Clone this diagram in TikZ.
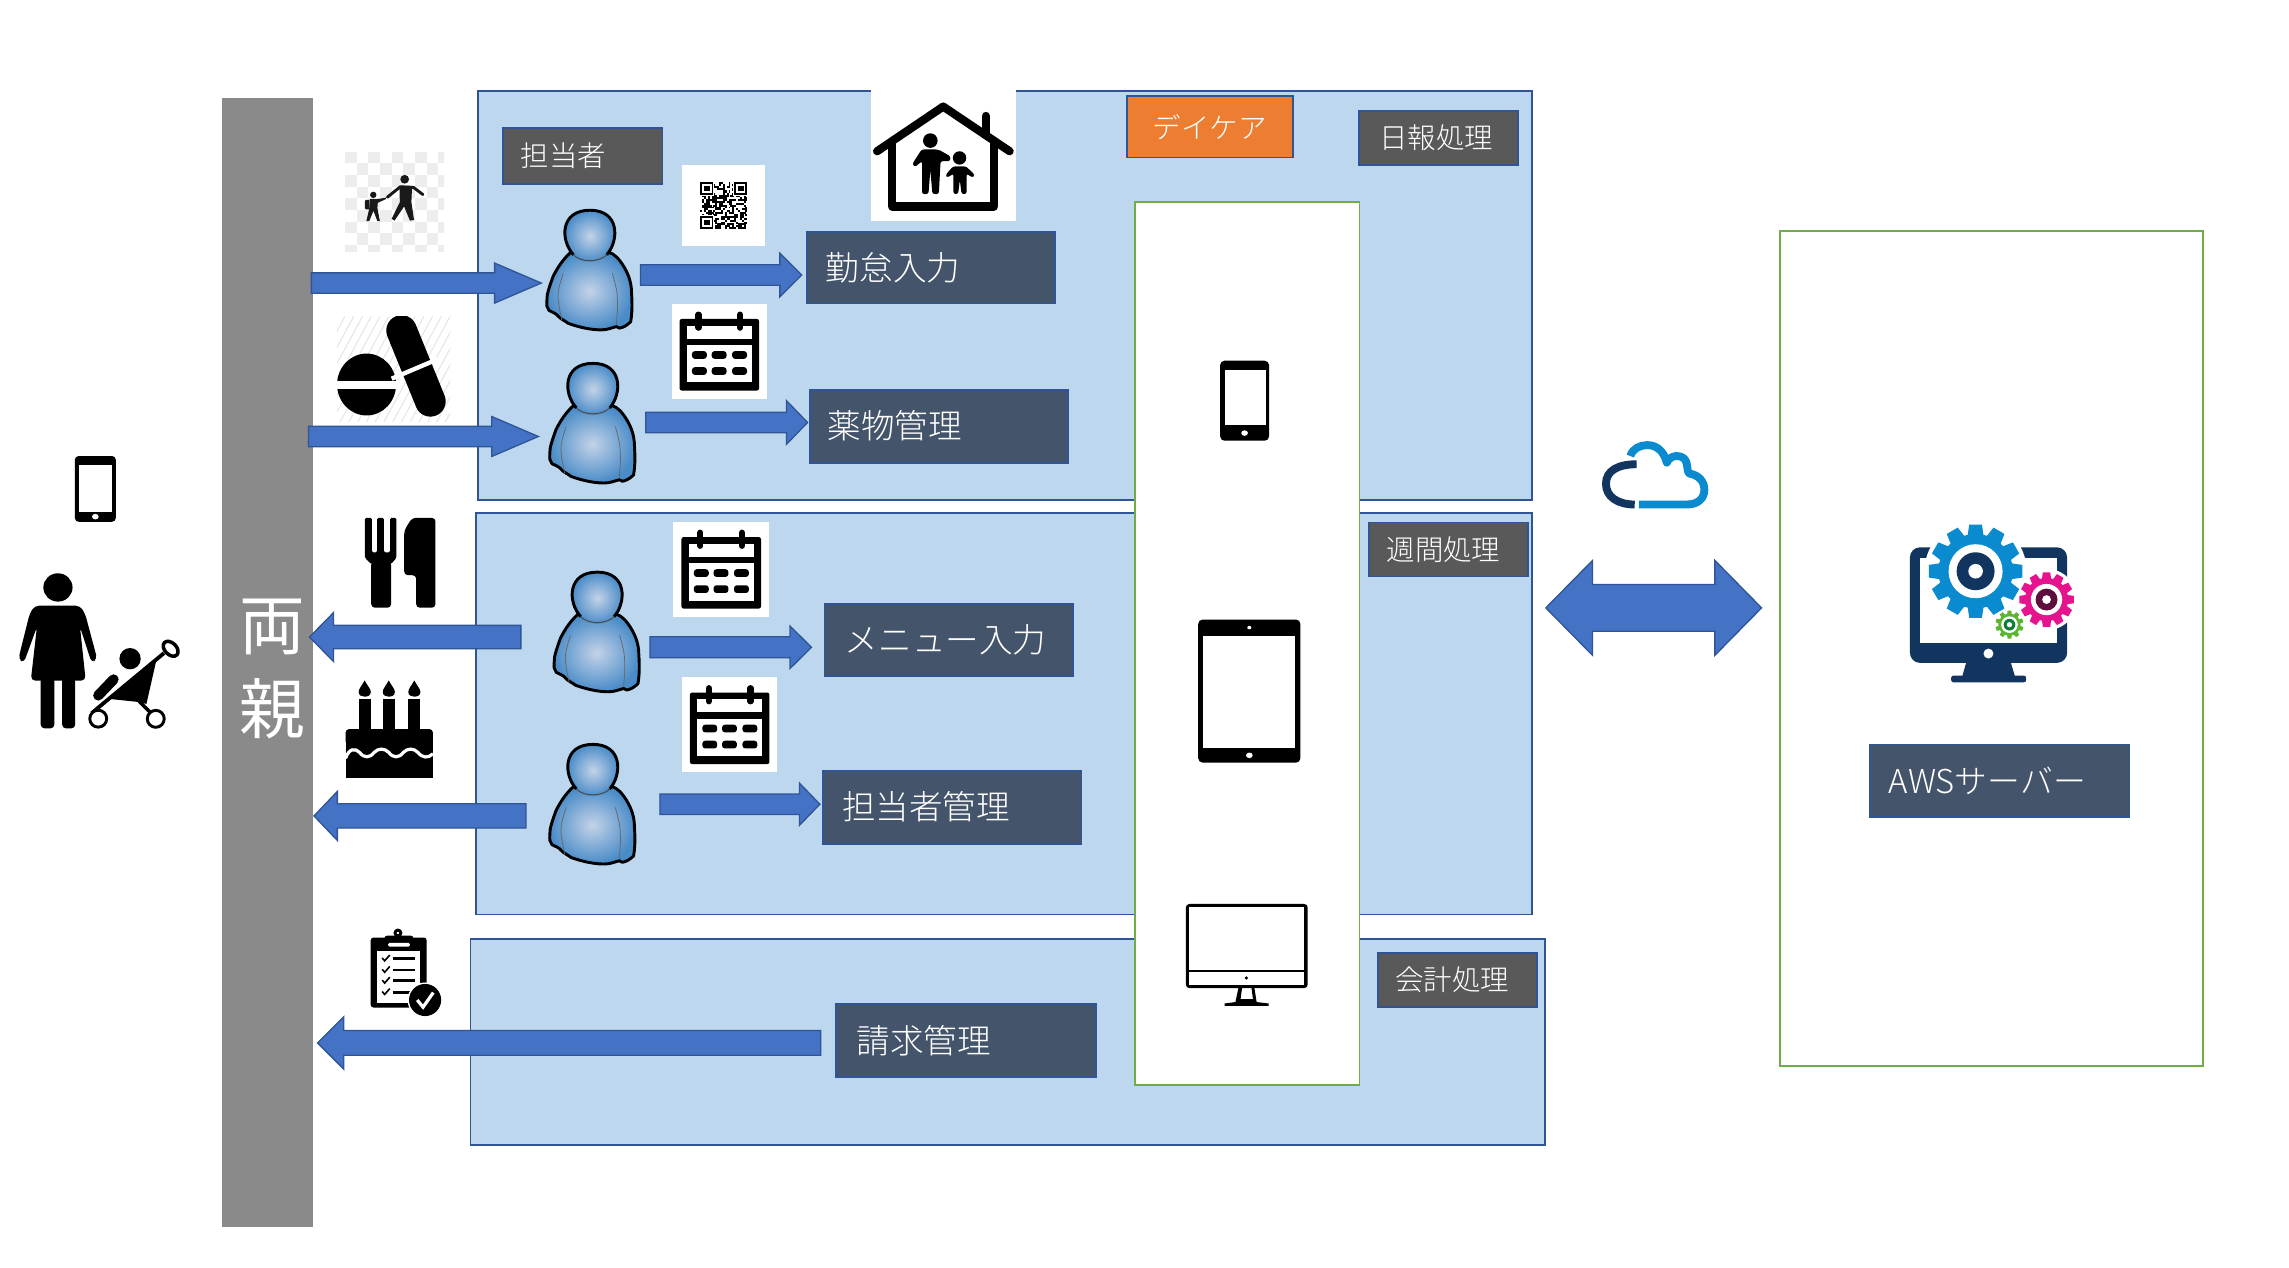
\documentclass[tikz,border=0pt]{standalone}
\usepackage{fontspec}
\setmainfont{Noto Sans CJK JP}[UprightFont={* Light}]
\newfontfamily\jpreg{Noto Sans CJK JP}
\usetikzlibrary{calc}
\definecolor{panelfill}{HTML}{BDD7EE}
\definecolor{edgeblue}{HTML}{2F5597}
\definecolor{arrowblue}{HTML}{4472C4}
\definecolor{slate}{HTML}{44546A}
\definecolor{darkgray}{HTML}{595959}
\definecolor{bargray}{HTML}{8A8A8A}
\definecolor{okgreen}{HTML}{70AD47}
\definecolor{orangebox}{HTML}{ED7D31}
\definecolor{navy}{HTML}{12355F}
\definecolor{gearblue}{HTML}{0A8BCF}
\definecolor{gearpink}{HTML}{E5148E}
\definecolor{gearplum}{HTML}{5E0F3E}
\definecolor{geargreen}{HTML}{5CB531}
\definecolor{geardark}{HTML}{0E7C3A}
\definecolor{skinlight}{HTML}{C4D3E8}
\definecolor{skinedge}{HTML}{4A8CC8}
\tikzset{
  panel/.style={draw=edgeblue,fill=panelfill,line width=1.2pt},
  greenbox/.style={draw=okgreen,fill=white,line width=1.2pt},
  graytag/.style={draw=edgeblue,fill=darkgray,line width=1.2pt,text=white},
  slatetag/.style={draw=edgeblue,fill=slate,line width=1.2pt,text=white},
  orangetag/.style={draw=edgeblue,fill=orangebox,line width=1.2pt,text=white},
  blockarrow/.style={draw=edgeblue,fill=arrowblue,line width=0.9pt},
}
% name, x1,y1,x2,y2, style, font size, left offset, text
\newcommand\lab[9]{%
  \pgfmathsetmacro\lbW{#4-#2-1}\pgfmathsetmacro\lbH{#5-#3-1}%
  \node[#6,anchor=center,minimum width=\lbW pt,minimum height=\lbH pt,text width={\lbW pt-2*#8 pt},
        inner xsep=#8pt,inner ysep=0pt,align=left,font=\fontsize{#7}{#7}\selectfont]
        (#1) at ({(#2+#4)/2},{(#3+#5)/2}) {\raisebox{1pt}{#9}};}
% start, end, half shaft, half head, head length (horizontal)
\newcommand\barrow[5]{%
  \draw[blockarrow] let \p1=(#1),\p2=(#2),\n1={ifthenelse(\x2>\x1,1,-1)*#5*1pt} in
   (\x1,\y1+#3pt) -- (\x2-\n1,\y1+#3pt) -- (\x2-\n1,\y1+#4pt) -- (\x2,\y1) --
   (\x2-\n1,\y1-#4pt) -- (\x2-\n1,\y1-#3pt) -- (\x1,\y1-#3pt) -- cycle;}
% person: origin at top centre of head
\newcommand\person[1]{%
  \begin{scope}[shift={(#1)},xshift=-.3pt,y=-.97pt,x=.97pt]
   \shadedraw[inner color=skinlight,outer color=skinedge,draw=black,line width=2pt,line join=round]
     (-12.9,29.7) .. controls (-20,36) and (-24,44) .. (-25.4,46.8) .. controls (-28,54) and (-30,60) .. (-29.7,62.8)
     .. controls (-30,67) and (-30,69) .. (-28.3,70.8) .. controls (-26,72) and (-23,73) .. (-21.9,74.7)
     .. controls (-20,77) and (-17,78) .. (-14.7,79.9) .. controls (-6,83) and (2,84.5) .. (8.6,84.5)
     .. controls (13,84.5) and (16,83) .. (19.3,82.2) .. controls (21,83.5) and (22,83.5) .. (23,82.9)
     .. controls (26,82) and (28,80) .. (29.4,78.8) .. controls (30.5,72) and (30.5,66) .. (30,58.2)
     .. controls (30,50) and (27,44) .. (24.7,40) .. controls (21,34) and (18,31) .. (14,29.7) -- cycle;
   \draw[black!60,line width=.5pt] (-18.3,44.5) .. controls (-20.5,52) and (-22,56) .. (-21.9,60.5) .. controls (-22,66) and (-20,73) .. (-19.3,77.6);
   \draw[black!60,line width=.5pt] (16.5,44.5) .. controls (18.5,52) and (20,57) .. (20,62.8) .. controls (20.5,70) and (19.5,76) .. (19.3,81);
   \shade[inner color=skinlight,outer color=skinedge]
     (0.7,18.3) ellipse [x radius=18,y radius=18.3];
   \draw[black,line width=2pt] (-11,31.5) .. controls (-20.5,21) and (-20.5,0) .. (0.7,0) .. controls (21.5,0) and (21.5,21) .. (12.5,31.5);
   \draw[black!70,line width=.7pt] (-11,31.5) .. controls (-6,37) and (7,37) .. (12.5,31.5);
  \end{scope}}
% calendar: white plate origin top-left, 65 x 65
\newcommand\calicon[1]{%
  \begin{scope}[shift={(#1)}]
   \fill[white] (0,0) rectangle (65.3,65);
   \begin{scope}[shift={(5.5,5.5)}]
    \fill[black,rounded corners=1.5pt] (0,5) rectangle (54.5,54);
    \fill[white] (5,9.5) rectangle (49.5,18.5);
    \fill[white] (5,23) rectangle (49.5,48.5);
    \draw[black,line width=4.2pt,line cap=round] (13,2) -- (13,11) (41.5,2) -- (41.5,11);
    \draw[white,line width=.8pt] (10.4,9.5) -- (10.4,12.5) (15.6,9.5) -- (15.6,12.5) (38.9,9.5) -- (38.9,12.5) (44.1,9.5) -- (44.1,12.5);
    \foreach \ii in {8.5,22,36}{\foreach \jj in {27,38}{
      \fill[black,rounded corners=2pt] (\ii,\jj) rectangle ++(10.2,5.3);}}
   \end{scope}
  \end{scope}}
% handheld: x1,y1,x2,y2 body; sx1,sy1,sx2,sy2 screen; corner
\newcommand\handheld[9]{%
  \fill[black,rounded corners=#9pt] (#1,#2) rectangle (#3,#4);
  \fill[white] (#5,#6) rectangle (#7,#8);
  \fill[white] ({(#1+#3)/2},{(#8+#4)/2}) ellipse [x radius=2.3,y radius=1.9];}
% gear: x,y,R,root,teeth,colour,ring,dark,darkR
\newcommand\gearicon[9]{%
  \begin{scope}[shift={(#1,#2)}]
   \pgfmathsetmacro\gw{#3*0.17}\pgfmathsetmacro\gstep{360/#5}
   \fill[#6] (0,0) circle (#4);
   \foreach \kk in {1,...,#5}{
     \pgfmathsetmacro\aa{\kk*\gstep}
     \fill[#6,rotate=\aa] (-\gw,#4-1) -- ({-0.8*\gw},#3) -- ({0.8*\gw},#3) -- (\gw,#4-1) -- cycle;}
   \fill[white] (0,0) circle (#7);
   \fill[#8] (0,0) circle (#9);
  \end{scope}}
\begin{document}
\begin{tikzpicture}[x=1pt,y=-1pt]
\useasboundingbox (-0.3,-0.4) rectangle (1567.7,867.6);
\fill[white] (-0.3,-0.4) rectangle (1567.7,867.6);

% ---- left bar
\node[fill=bargray,minimum width=62pt,minimum height=773pt,inner sep=0pt] (bar) at (183,453.5) {};
\node[text=white,font=\fontsize{45}{45}\selectfont\jpreg,inner sep=0pt] (oyaA) at (186,429) {両};
\node[text=white,font=\fontsize{45}{45}\selectfont\jpreg,inner sep=0pt] (oyaB) at (186,485) {親};

% ---- panels
\node[panel,minimum width=722pt,minimum height=280pt,inner sep=0pt] (pday) at (688,202) {};
\node[panel,minimum width=723pt,minimum height=275pt,inner sep=0pt] (pweek) at (687.5,488.5) {};
\node[panel,minimum width=736pt,minimum height=141pt,inner sep=0pt] (pbill) at (690,713.5) {};

% ---- green boxes
\node[greenbox,minimum width=154pt,minimum height=605pt,inner sep=0pt] (devices) at (854,440.5) {};
\node[greenbox,minimum width=290pt,minimum height=572pt,inner sep=0pt] (server) at (1364,444) {};

% ---- tags
\lab{tanto}{344}{87}{454}{126}{graytag}{19.5}{12}{担当者}
\lab{daycare}{771}{65}{886}{108}{orangetag}{19.5}{18}{デイケア}
\lab{nippo}{930}{75}{1040}{113}{graytag}{19.5}{14}{日報処理}
\lab{shukan}{937}{357}{1047}{395}{graytag}{19.5}{12}{週間処理}
\lab{kaikei}{943}{652}{1053}{690}{graytag}{19.5}{12}{会計処理}
\lab{kintai}{552}{158}{723}{208}{slatetag}{23}{13}{勤怠入力}
\lab{yakubutsu}{554}{266}{732}{317}{slatetag}{23}{12}{薬物管理}
\lab{menu}{564}{413}{735}{463}{slatetag}{23}{14}{メニュー入力}
\lab{tantokanri}{563}{527}{741}{578}{slatetag}{23}{13}{担当者管理}
\lab{seikyu}{572}{687}{751}{738}{slatetag}{23}{14}{請求管理}
\lab{aws}{1280}{509}{1459}{560}{slatetag}{22.5}{13}{AWSサーバー}

% ---- people
\coordinate (pa) at (403.5,143.6);
\coordinate (pb) at (405.5,248.5);
\coordinate (pc) at (408.5,391.5);
\coordinate (pd) at (405.5,509.5);
\person{pa}\person{pb}\person{pc}\person{pd}

% ---- QR plate
\begin{scope}[shift={(467,112.4)}]
 \fill[white] (0,0) rectangle (56.5,55.6);
 \begin{scope}[shift={(12.4,11.9)},x=1.29pt,y=-1.29pt]
  \pgfmathsetseed{4242}
  \foreach \ii in {0,...,24}{\foreach \jj in {0,...,24}{
    \pgfmathsetmacro\rr{rnd}
    \ifdim\rr pt>0.48pt \fill[black] (\ii,\jj) rectangle ++(1.02,1.02);\fi}}
  \foreach \ii/\jj in {0/0,18/0,0/18}{
    \fill[white] (\ii-0.5,\jj-0.5) rectangle ++(8,8);
    \fill[black] (\ii,\jj) rectangle ++(7,7);
    \fill[white] (\ii+1,\jj+1) rectangle ++(5,5);
    \fill[black] (\ii+2,\jj+2) rectangle ++(3,3);}
 \end{scope}
\end{scope}

% ---- calendars
\calicon{459.7,207.6}
\calicon{461,357}
\calicon{466.8,463.5}

% ---- house plate
\fill[white] (596,61) rectangle (696,151);
\draw[black,line width=5.6pt,line cap=round,line join=round] (600.5,103.2) -- (645.8,72.6) -- (691.3,103.2);
\draw[black,line width=5.6pt,line cap=round,line join=round] (611,97) -- (611,141) -- (680.5,141) -- (680.5,97);
\draw[black,line width=5.6pt,line cap=round] (675,79) -- (675,92);
\fill[black] (637,95.9) circle (5);
\fill[black,rounded corners=1.5pt] (631,102) -- (642.5,102) -- (650.8,106.7) -- (650.5,110) -- (644,110) -- (642.8,132.5) -- (638.4,132.5) -- (637,116) -- (635.7,132.5) -- (631.3,132.5) -- (631.3,110) -- (626.5,114) -- (624.6,112) -- cycle;
\fill[black] (657,107.8) circle (4.6);
\fill[black,rounded corners=1.5pt] (652.5,113.6) -- (661.5,113.6) -- (667.5,119.5) -- (665.8,121.3) -- (661.8,118.5) -- (661.8,132.5) -- (658.4,132.5) -- (657.2,123) -- (656,132.5) -- (652.8,132.5) -- (652.8,118.5) -- (648.8,121.3) -- (647.4,119.5) -- cycle;

% ---- walking pair on checker
\begin{scope}
 \clip (236,103.5) rectangle (304,172);
 \foreach \ii in {0,...,8}{\foreach \jj in {0,...,8}{
   \pgfmathtruncatemacro\parit{mod(\ii+\jj,2)}
   \ifnum\parit=0 \fill[black!7] ({236+\ii*8},{103.5+\jj*8}) rectangle ++(8,8);\fi}}
\end{scope}
\fill[black!90] (276.9,122.4) circle (3);
\draw[black!90,line width=2pt,line cap=round,line join=round] (265,134.7) -- (274,127.5) -- (283,128) -- (289.4,132.9);
\fill[black!90] (273.3,127) -- (282,127) -- (281.5,138) -- (283.3,150.3) -- (280.5,150.7) -- (276.5,141) -- (270,150.7) -- (268,149.5) -- (273.6,138) -- cycle;
\fill[black!90] (255.4,133.1) circle (2.2);
\fill[black!90] (253,136) -- (258,136) -- (264,135) -- (264,136) -- (258.5,138.5) -- (258.2,142) -- (259.9,151) -- (258.2,151) -- (255.5,144) -- (252.7,151) -- (250.7,151) -- (252.7,142) -- cycle;
\fill[black!90,rounded corners=.7pt] (249.7,136.5) rectangle (252.8,143);

% ---- pills on hatching
\begin{scope}
 \clip (230.7,216.4) rectangle (308,288.1);
 \foreach \ii in {0,6,...,156}{\draw[black!10,line width=.7pt] ({230+\ii},216.4) -- ({230+\ii-40},290);}
 \fill[black] (250.8,263) ellipse [x radius=20.2,y radius=21.2];
 \fill[white] (229,260.7) rectangle (272,266);
 \draw[black,line width=21pt,line cap=round] (274.8,226) -- (294.5,274.5);
 \draw[white,line width=3pt] (268,259) -- (301,245);
\end{scope}

% ---- fork and knife
\fill[black,rounded corners=1pt] (249.7,354.3) -- (254.4,354.3) -- (254.4,378) -- (258,378) -- (258,354.3) -- (262.6,354.3) -- (262.6,378) -- (266.9,378) -- (266.9,354.3) -- (271.2,354.3) -- (271.2,381.8) -- (267.6,386) -- (254,386) -- (249.7,381.8) -- cycle;
\fill[black,rounded corners=2.5pt] (254,384) -- (267.6,384) -- (267.6,415.9) -- (254,415.9) -- cycle;
\fill[black,rounded corners=2.5pt] (298,354.3) -- (298,415.9) -- (284.8,415.9) -- (284.8,393.6) -- (276.6,393.6) -- (276.6,363) -- (282,354.3) -- cycle;

% ---- cake
\foreach \ii in {245.4,261.9,279.4}{
  \fill[black] (\ii,478.5) rectangle ++(8.3,22);
  \fill[black] ({\ii+4.1},465.7) .. controls ({\ii+2},469.5) and ({\ii},471.5) .. ({\ii},473.5) .. controls ({\ii},476) and ({\ii+2},476.8) .. ({\ii+4.1},476.8) .. controls ({\ii+6.3},476.8) and ({\ii+8.3},476) .. ({\ii+8.3},473.5) .. controls ({\ii+8.3},471.5) and ({\ii+6},469.5) .. ({\ii+4.1},465.7) -- cycle;}
\fill[black,rounded corners=2.5pt] (236.4,510) -- (236.4,499) -- (296.3,499) -- (296.3,510) -- cycle;
\fill[black] (236.4,503) rectangle (296.3,532.5);
\draw[white,line width=2.2pt] (236.4,519) .. controls (239,512) and (243,512) .. (246,515) .. controls (249,519) and (253,519) .. (256,515) .. controls (259,512) and (263,512) .. (266,515) .. controls (269,519) and (273,519) .. (276,515) .. controls (279,512) and (283,512) .. (286,515) .. controls (289,519) and (293,519) .. (296.3,516);

% ---- clipboard
\fill[black,rounded corners=2pt] (253.6,641.8) rectangle (292,689.8);
\fill[white] (258,651.3) rectangle (287.7,686.4);
\draw[black,line width=2pt,fill=white] (272.3,638.7) circle (2);
\fill[black,rounded corners=2pt] (263,640.5) rectangle (283,648);
\fill[white,rounded corners=1pt] (265.5,645.5) rectangle (280.5,648);
\foreach \jj in {656.3,664.1,671.5,679.3}{
  \draw[black,line width=1.1pt] (261.5,{\jj-.5}) -- (263.2,{\jj+1.5}) -- (266.7,{\jj-2.5});
  \draw[black,line width=1.9pt] (268.7,\jj) -- (284,\jj);}
\fill[white] (290.9,684.6) circle (12);
\fill[black] (290.9,684.6) circle (11);
\draw[white,line width=2.2pt] (285.5,684.6) -- (289.5,689.5) -- (296.5,679.5);

% ---- handheld devices
\handheld{51}{312}{79}{357}{53.5}{318}{76.5}{350}{2.5}
\handheld{835.5}{246.7}{869}{301.5}{838.6}{253}{866.6}{291}{3}
\handheld{820.5}{424}{890.5}{522}{824}{435}{887}{512}{3}
\fill[white] (855.5,429.5) ellipse [x radius=1.4,y radius=1.2];

% ---- monitor in the device column
\fill[black,rounded corners=2.5pt] (812,618.8) rectangle (895.5,676.5);
\fill[white] (814.5,621) rectangle (893,664);
\fill[white] (814.5,665.5) rectangle (893,674.5);
\fill[black] (853.5,669.5) circle (1.2);
\fill[black] (848,676.5) -- (850.5,676.5) -- (849.5,684) -- (858,684) -- (857,676.5) -- (859,676.5) -- (860.5,686) -- (868.7,687) -- (868.7,688.6) -- (838.6,688.6) -- (838.6,687) -- (846,686) -- cycle;

% ---- mother and stroller
\fill[black] (39.4,402) ellipse [x radius=10,y radius=9.7];
\fill[black,rounded corners=3pt] (23.5,414.5) -- (54.5,414.5) -- (58,420) -- (66.3,451) -- (62.5,453.7) -- (54.5,429) -- (58.4,465.8) -- (20.8,465.8) -- (25,429) -- (16,453.7) -- (12.3,451) -- (20,420) -- cycle;
\fill[black,rounded corners=2.5pt] (27.6,460) rectangle (36.9,498.5);
\fill[black,rounded corners=2.5pt] (42.3,460) rectangle (51.2,498.5);
\draw[black,line width=2.4pt,fill=white,rotate around={-45:(116.6,444)}] (116.6,444) ellipse [x radius=6,y radius=4];
\draw[black,line width=2.6pt] (62.6,488) -- (112,447);
\fill[black] (88.8,450.8) ellipse [x radius=7.3,y radius=7.3];
\fill[black] (107,451) -- (100,481.8) -- (95,480.5) -- (76,478.5) -- cycle;
\draw[black,line width=2.4pt] (95,480) -- (106,491);
\draw[black,line width=7pt,line cap=round] (77.5,465) -- (67,476);
\draw[black,line width=2pt,fill=white] (67,491.9) circle (5.8);
\draw[black,line width=2pt,fill=white] (106.4,492) circle (5.8);

% ---- cloud
\draw[navy,line width=5.4pt] (1120.8,317.6) .. controls (1108,317.6) and (1099.8,322) .. (1099.8,331) .. controls (1099.8,340) and (1108,345.2) .. (1119.5,345.2);
\draw[gearblue,line width=5.4pt,line join=round] (1122.3,345.2) -- (1155,345.2) .. controls (1163,345.2) and (1167.2,341) .. (1167.2,335) .. controls (1167.2,329) and (1163,325) .. (1157,324) .. controls (1154,322) and (1158,312) .. (1148,312) .. controls (1145,312) and (1142.5,314) .. (1141.5,316.5) .. controls (1139,307) and (1133,304.5) .. (1128,304.5) .. controls (1123,304.5) and (1118,307) .. (1116.5,312);

% ---- server monitor
\fill[navy,rounded corners=7pt] (1308,374.5) rectangle (1415.7,453.7);
\fill[white] (1314.6,381.6) rectangle (1409,440.3);
\fill[white] (1361.8,447.3) circle (3.4);
\fill[navy] (1346.7,453) -- (1377,453) -- (1380,463) -- (1343.8,463) -- cycle;
\fill[navy,rounded corners=1.5pt] (1336.3,462.4) rectangle (1387.6,467);
\fill[white] (1353,390.9) circle (35);
\fill[white] (1401.6,410.3) circle (21);
\gearicon{1353}{390.9}{32}{25.5}{12}{gearblue}{18.5}{navy}{13}
\fill[white] (1353,390.9) circle (5);
\gearicon{1401.6}{410.3}{18.7}{14.8}{12}{gearpink}{10.7}{gearplum}{7.5}
\fill[white] (1401.6,410.3) circle (3);
\gearicon{1376.2}{427.5}{9.6}{7.6}{10}{geargreen}{5.7}{geardark}{4}
\fill[white] (1376.2,427.5) circle (1.8);

% ---- block arrows
\coordinate (aS1) at (213,193.5);
\coordinate (aS2) at (211,298.6);
\coordinate (aS3) at (438.5,188);
\coordinate (aS4) at (442,289);
\coordinate (aS5) at (356.5,436);
\coordinate (aS6) at (360,558.5);
\coordinate (y714) at (0,714);
\coordinate (aS7) at ($(seikyu.west |- y714)+(-10,0)$);
\coordinate (aS8) at (445,443);
\coordinate (aS9) at (451.8,550.5);
\barrow{aS1}{[xshift=-33pt]pa}{7}{13.7}{32}
\barrow{aS2}{[xshift=-37pt]pb}{7}{13.7}{32}
\barrow{aS3}{[xshift=-3pt]kintai.west}{7}{15}{15}
\barrow{aS4}{[xshift=-1pt]yakubutsu.west}{7}{15}{14.5}
\barrow{aS5}{[xshift=-2.5pt]bar.east}{8}{16.8}{16.5}
\barrow{aS6}{[xshift=.6pt]bar.east}{8.3}{16.8}{16}
\barrow{aS7}{[xshift=3pt]bar.east}{8.5}{18}{18}
\barrow{aS8}{[xshift=-8.3pt]menu.west}{7.2}{14.5}{14.7}
\barrow{aS9}{[xshift=-1.6pt]tantokanri.west}{7}{14.5}{14}
\coordinate (dbl) at (1132.5,416);
\coordinate (dbA) at ($(pweek.east |- dbl)+(9,0)$);
\coordinate (dbB) at ($(server.west |- dbl)+(-12,0)$);
\draw[blockarrow] let \p1=(dbA),\p2=(dbB) in
  (\x1,\y1) -- (\x1+32pt,\y1+32.5pt) -- (\x1+32pt,\y1+16pt) -- (\x2-32pt,\y1+16pt) -- (\x2-32pt,\y1+32.5pt) -- (\x2,\y1)
  -- (\x2-32pt,\y1-32.5pt) -- (\x2-32pt,\y1-16pt) -- (\x1+32pt,\y1-16pt) -- (\x1+32pt,\y1-32.5pt) -- cycle;
\end{tikzpicture}
\end{document}
